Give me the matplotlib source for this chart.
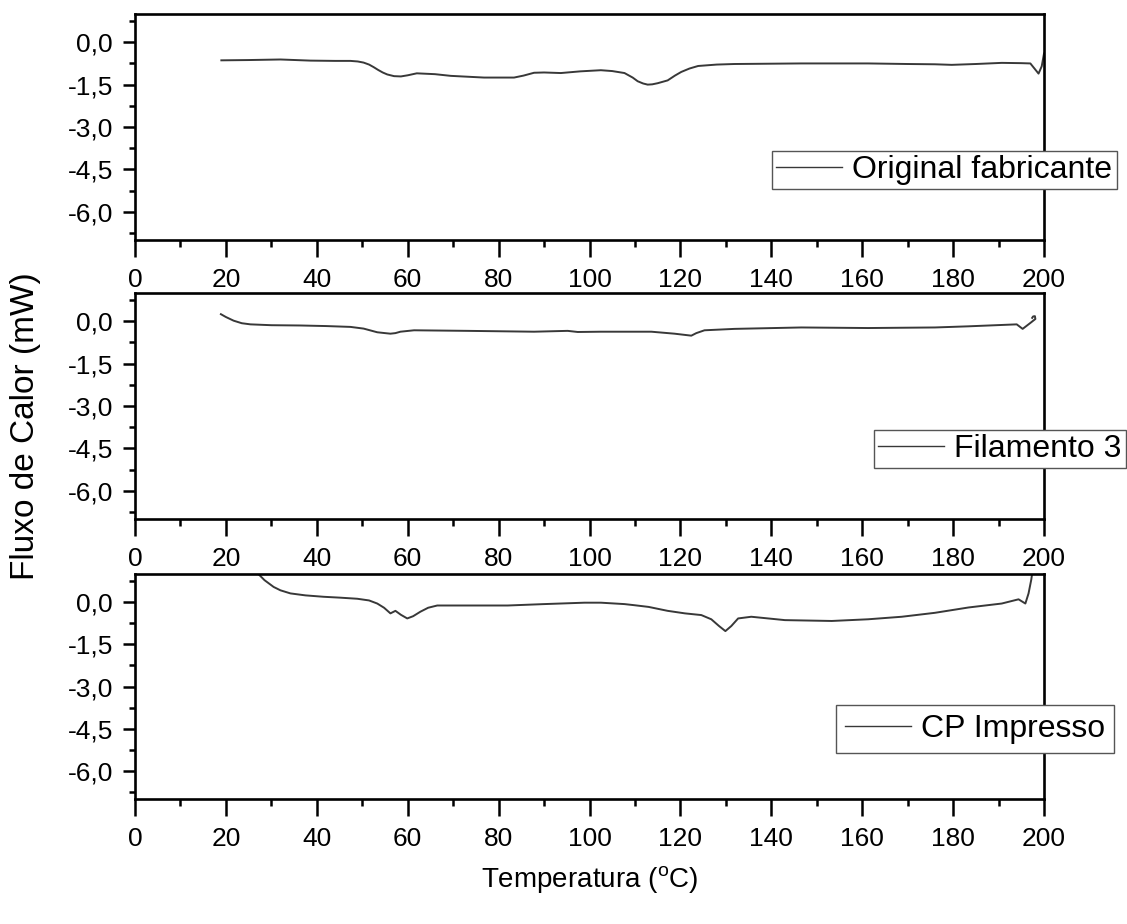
import matplotlib
matplotlib.use("Agg")
import matplotlib.pyplot as plt
from matplotlib.ticker import MultipleLocator, FuncFormatter
from matplotlib.lines import Line2D

# DSC heat-flow curves for three PLA samples
series_labels = ["Original fabricante", "Filamento 3", "CP Impresso"]

temp_original = [19.0, 25, 32, 38.6, 44, 47.4, 49, 50.3, 51.5, 52.5, 53.5, 54.5, 55.5, 57,
                 58.5, 60, 62, 66, 69.5, 76.8, 83.4, 85.5, 87.8, 90, 93.7, 98, 102.5, 105,
                 107.7, 109.5, 110.6, 111.8, 112.8, 113.8, 115, 117.2, 118.8, 120.2, 122,
                 123.9, 128, 131.9, 146.6, 161.3, 170, 176, 179.7, 185, 190.7, 195, 197,
                 198.0, 198.8, 199.5, 200]
flux_original = [-0.64, -0.63, -0.61, -0.65, -0.66, -0.66, -0.68, -0.72, -0.79, -0.88, -0.98,
                 -1.07, -1.14, -1.20, -1.21, -1.17, -1.10, -1.13, -1.19, -1.25, -1.25, -1.18,
                 -1.08, -1.07, -1.09, -1.03, -0.99, -1.02, -1.09, -1.25, -1.38, -1.46, -1.50,
                 -1.49, -1.45, -1.35, -1.18, -1.05, -0.93, -0.84, -0.79, -0.77, -0.75, -0.75,
                 -0.77, -0.78, -0.80, -0.77, -0.73, -0.74, -0.75, -0.95, -1.11, -0.85, -0.40]

temp_filamento = [18.9, 20, 21.7, 23.5, 25.4, 30, 36.4, 42, 47.4, 50.3, 53.3, 55, 56.2, 57.3,
                  58.4, 61.4, 73.1, 87.8, 95.2, 97.4, 102.5, 113.6, 118.7, 122.4, 123.5,
                  125.3, 131.9, 146.6, 161.3, 176, 183.3, 194, 195.3, 197, 198.1, 198.0,
                  197.6, 197.4]
flux_filamento = [0.25, 0.15, 0.02, -0.07, -0.11, -0.14, -0.15, -0.17, -0.20, -0.26, -0.39,
                  -0.42, -0.44, -0.42, -0.37, -0.32, -0.34, -0.37, -0.34, -0.38, -0.37, -0.37,
                  -0.44, -0.51, -0.42, -0.32, -0.27, -0.22, -0.24, -0.22, -0.18, -0.11, -0.27,
                  -0.06, 0.08, 0.18, 0.17, 0.12]

temp_impresso = [26.5, 27.2, 28.5, 30.5, 32, 34.2, 37.5, 41.5, 45, 48.9, 51.5, 53.3, 54.8,
                 56.2, 57.3, 58.5, 59.9, 61.2, 62.8, 64.5, 66.5, 75, 82, 90, 98.9, 102.5,
                 107.7, 109.9, 113, 117.2, 121, 124.6, 126.8, 128.5, 129.9, 131.2, 132.7,
                 135.6, 143, 153.3, 161.3, 168.7, 176, 183.4, 190.7, 194.4, 195.9, 196.6,
                 197.2, 197.6]
flux_impresso = [1.25, 0.99, 0.78, 0.54, 0.42, 0.31, 0.24, 0.19, 0.16, 0.12, 0.06, -0.05,
                 -0.20, -0.40, -0.31, -0.45, -0.58, -0.50, -0.34, -0.20, -0.12, -0.12, -0.12,
                 -0.07, -0.02, -0.02, -0.07, -0.11, -0.17, -0.31, -0.40, -0.46, -0.61, -0.85,
                 -1.03, -0.85, -0.58, -0.52, -0.64, -0.67, -0.61, -0.52, -0.38, -0.19, -0.05,
                 0.10, -0.05, 0.31, 0.80, 1.25]

series = [(temp_original, flux_original), (temp_filamento, flux_filamento),
          (temp_impresso, flux_impresso)]

plt.rcParams["font.family"] = ["Liberation Sans", "DejaVu Sans"]

fig = plt.figure(figsize=(11.27, 9.24), dpi=100)
W, H = 1127, 924

# panel boxes in pixels: (top, bottom)
panels = [(14, 240), (293, 519), (574, 799)]
left_px, right_px = 135, 1044
legend_left = [0.701, 0.813, 0.771]
legend_pad = [0.13, 0.13, 0.28]

line_color = "#383838"
comma_fmt = FuncFormatter(lambda v, pos: f"{v:.1f}".replace(".", ","))

for i, ((top, bot), (tx, fy)) in enumerate(zip(panels, series)):
    ax = fig.add_axes([left_px / W, 1 - bot / H, (right_px - left_px) / W, (bot - top) / H])
    ax.plot(tx, fy, color=line_color, lw=1.4)
    ax.set_xlim(0, 200)
    ax.set_ylim(-7, 1)
    ax.xaxis.set_major_locator(MultipleLocator(20))
    ax.xaxis.set_minor_locator(MultipleLocator(10))
    ax.yaxis.set_major_locator(MultipleLocator(1.5))
    ax.yaxis.set_minor_locator(MultipleLocator(0.75))
    ax.yaxis.set_major_formatter(comma_fmt)
    for s in ax.spines.values():
        s.set_linewidth(1.9)
    ax.tick_params(axis="x", which="major", direction="out", length=12, width=1.8,
                   labelsize=19, pad=8)
    ax.tick_params(axis="x", which="minor", direction="out", length=5, width=1.8)
    ax.tick_params(axis="y", which="major", direction="out", length=9, width=1.8,
                   labelsize=19, pad=7)
    ax.tick_params(axis="y", which="minor", direction="out", length=4.5, width=1.8)
    handle = Line2D([], [], color=line_color, lw=1.0)
    leg = ax.legend([handle], [series_labels[i]], loc="center left",
                    bbox_to_anchor=(legend_left[i], 0.31), fontsize=23, frameon=True,
                    fancybox=False, framealpha=1, edgecolor="#555555",
                    handlelength=2.07, handletextpad=0.31, borderpad=legend_pad[i],
                    borderaxespad=0)
    leg.get_frame().set_linewidth(1.0)

fig.text(26 / W, 1 - 426 / H, "Fluxo de Calor (mW)", rotation=90, ha="center",
         va="center", fontsize=24)
fig.text(590 / W, 1 - 880 / H, "Temperatura ($^{\\mathregular{o}}$C)", ha="center",
         va="center", fontsize=20)

fig.savefig("out.png", dpi=100)
